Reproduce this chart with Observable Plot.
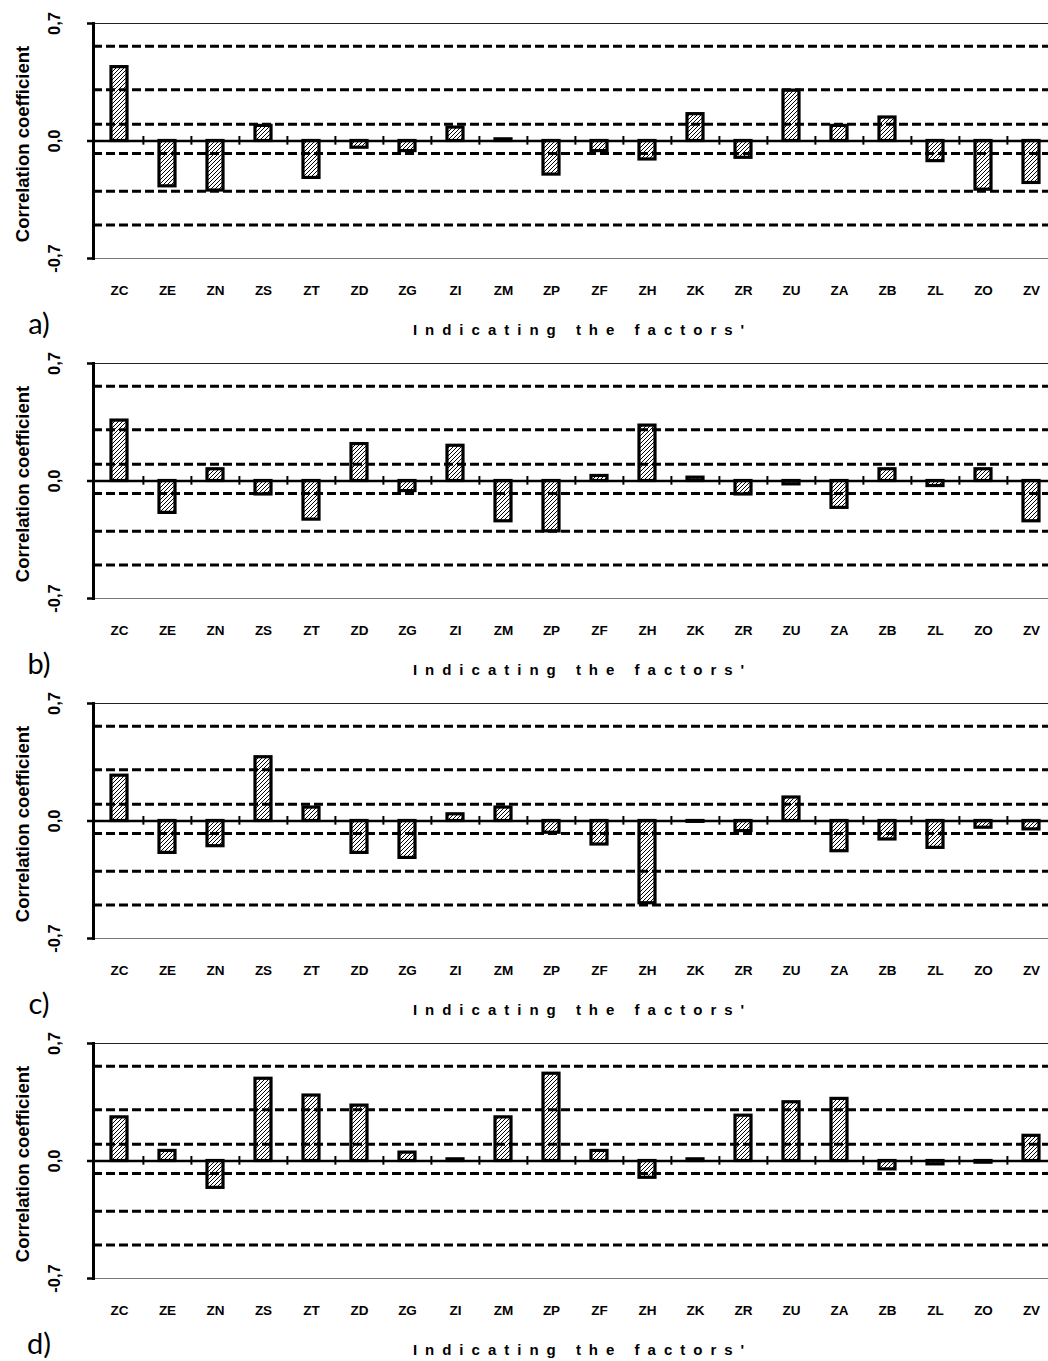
<!DOCTYPE html>
<html><head><meta charset="utf-8">
<script src="https://cdn.jsdelivr.net/npm/d3@7"></script>
<script src="https://cdn.jsdelivr.net/npm/@observablehq/plot@0.6"></script>
<style>
html,body{margin:0;padding:0;background:#fff;overflow:hidden;}
#chart > svg{display:block;overflow:visible;}
</style></head><body>
<svg width="0" height="0" style="position:absolute">
<defs><pattern id="hatch" patternUnits="userSpaceOnUse" width="4" height="4">
<rect width="4" height="4" fill="white"/>
<path d="M-1,1 l2,-2 M0,4 l4,-4 M3,5 l2,-2" stroke="black" stroke-width="1"/>
</pattern></defs></svg>
<div id="chart"></div>
<script>
const factors = ["ZC","ZE","ZN","ZS","ZT","ZD","ZG","ZI","ZM","ZP","ZF","ZH","ZK","ZR","ZU","ZA","ZB","ZL","ZO","ZV"];
const panelA = [0.44,-0.27,-0.295,0.09,-0.22,-0.04,-0.06,0.08,0.01,-0.20,-0.06,-0.11,0.16,-0.10,0.30,0.09,0.14,-0.12,-0.29,-0.25];
const panelB = [0.36,-0.19,0.07,-0.08,-0.23,0.22,-0.06,0.21,-0.24,-0.30,0.03,0.33,0.02,-0.08,-0.02,-0.16,0.07,-0.03,0.07,-0.24];
const panelC = [0.27,-0.19,-0.15,0.38,0.08,-0.19,-0.22,0.04,0.08,-0.07,-0.14,-0.49,-0.005,-0.06,0.14,-0.18,-0.11,-0.16,-0.04,-0.05];
const panelD = [0.26,0.06,-0.16,0.49,0.39,0.33,0.05,0.01,0.26,0.52,0.06,-0.10,0.01,0.27,0.35,0.37,-0.05,-0.02,-0.01,0.15];
const thresholds = [0.565,0.305,0.10,-0.075,-0.30,-0.50];
const yTicks = [-0.7,0,0.7];
const yTickLabels = ["-0,7","0,0","0,7"];
const panelLabels = ["a)","b)","c)","d)"];
const yTitle = "Correlation coefficient";
const xTitle = "Indicating the factors'";

const panels = [panelA, panelB, panelC, panelD];
const W = 1048, ML = 93, MR = -9;
const step = (W - ML - MR) / factors.length;
const font = "'Liberation Sans', Arial, sans-serif";

panels.forEach((values, p) => {
  const data = factors.map((f, i) => ({factor: f, value: values[i]}));
  const svg = Plot.plot({
    width: W, height: 340,
    marginLeft: ML, marginRight: MR, marginTop: 23, marginBottom: 82,
    style: {fontFamily: font, background: "transparent", color: "black", maxWidth: "none", overflow: "visible"},
    x: {domain: factors, padding: 0, axis: null},
    y: {domain: [-0.7, 0.7], axis: null},
    marks: [
      Plot.barY(data, {x: "factor", y: "value", fill: "url(#hatch)", stroke: "black", strokeWidth: 3.2, insetLeft: 16, insetRight: 16}),
      Plot.ruleY(thresholds, {stroke: "black", strokeWidth: 3, strokeDasharray: "9,4"}),
      Plot.ruleY([0.7], {stroke: "#222", strokeWidth: 1}),
      Plot.ruleY([-0.7], {stroke: "#777", strokeWidth: 1.2}),
      Plot.ruleY([0], {stroke: "black", strokeWidth: 2.4}),
      Plot.ruleX(factors.slice(1), {x: d => d, y1: -0.025, y2: 0.027, dx: -step / 2, stroke: "black", strokeWidth: 2}),
      Plot.frame({anchor: "left", stroke: "black", strokeWidth: 3}),
      Plot.axisY({ticks: yTicks, tickSize: 6, strokeWidth: 2.5, tickFormat: () => "", label: null}),
      Plot.text(yTicks, {y: d => d, text: (d, i) => yTickLabels[i], frameAnchor: "left", dx: -38.5, rotate: -90, fontWeight: "bold", fontSize: 16.5, textAnchor: "middle", lineAnchor: "middle"}),
      Plot.text([yTitle], {text: d => d, frameAnchor: "left", dx: -70, dy: 3, rotate: -90, fontWeight: "bold", fontSize: 18.5, textAnchor: "middle", lineAnchor: "middle"}),
      Plot.text(factors, {x: d => d, text: d => d, frameAnchor: "bottom", dy: 32, fontWeight: "bold", fontSize: 13.5, lineAnchor: "middle"}),
      Plot.text([xTitle], {text: d => d, frameAnchor: "bottom", dx: 7, dy: 72, fontWeight: "bold", fontSize: 15, lineAnchor: "middle"}),
      Plot.text([panelLabels[p]], {text: d => d, frameAnchor: "bottom-left", dx: -54.5, dy: 66, fontSize: 29, fontFamily: "Lato, 'Open Sans', sans-serif", textAnchor: "middle", lineAnchor: "middle"})
    ]
  });
  d3.select(svg).selectAll("text").filter(function() { return this.textContent === xTitle; }).attr("letter-spacing", "8px");
  document.getElementById("chart").appendChild(svg);
});
</script>
</body></html>
